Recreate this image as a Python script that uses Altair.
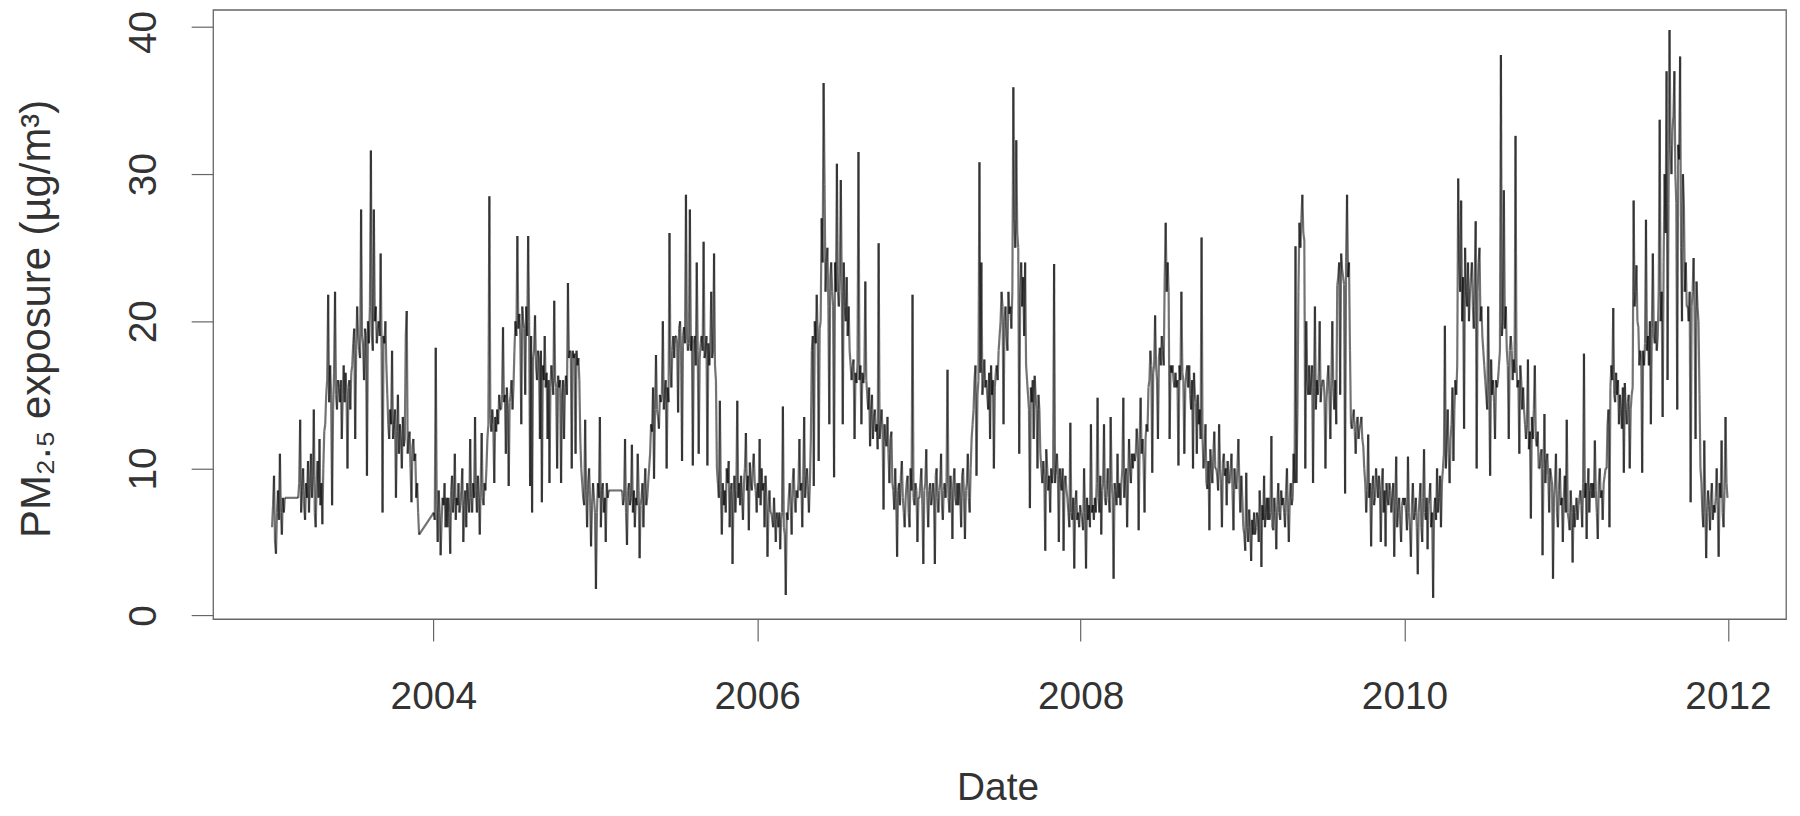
import calendar
import altair as alt
import pandas as pd

# PM2.5 exposure readings
# (each inner list = readings spread across that month; empty = no data)
y2003 = [
    [6, 7.5, 9.5, 5, 4.2, 7, 8.5, 6.5, 11, 7, 5.5, 8, 7, 8],
    [],
    [8, 9, 13.3, 7, 8.5, 10, 7.5, 6.5, 9, 8, 10.5, 7, 9, 11],
    [8, 9.5, 14, 7, 6, 9, 10.5, 8, 12, 7.5, 9, 6.2, 10, 12.5],
    [13, 15, 16, 21.8, 14.5, 17, 15, 7.5, 14, 16.5, 22, 15, 14, 16],
    [15.5, 14.5, 16, 12, 15, 17, 14.5, 16.5, 15, 10, 15.5, 16, 14, 16.5],
    [17, 18.5, 19.5, 12, 18, 21, 19, 18, 17.5, 27.6, 19, 18.5, 16, 19.5],
    [19, 9.5, 20, 18.5, 21, 31.6, 19, 18, 27.6, 20, 21, 18.5, 19.5, 20],
    [19, 24.6, 18, 7, 19, 18.5, 20, 17, 15, 13, 12, 14, 13, 18],
    [12, 13, 14, 8, 12.5, 15, 11, 13, 12, 10, 13.5, 11.5, 12, 19],
    [20.7, 11, 12, 12.5, 10, 7.7, 11.5, 12, 10.5, 11, 8, 9, 7, 5.5],
    [],
]
y2004 = [
    [7, 6.5, 18.2, 7.5, 5, 8.5, 7, 4.1, 6.5, 8, 7.5, 9, 6, 8],
    [6, 8, 7, 4.2, 8.5, 9.5, 7, 8, 11, 6.5, 8, 7.5, 9, 7],
    [7.5, 8.5, 10, 5, 7.5, 8.5, 6, 9, 8, 7, 12, 8, 7, 9],
    [8, 13.5, 8.5, 7, 9.5, 8, 5.5, 9, 12.4, 8, 7.5, 9, 8.5, 10],
    [12, 13, 28.5, 13.5, 12.5, 14, 13, 9, 13.5, 12.5, 14, 13, 15, 14],
    [14, 15, 19.6, 14.5, 15, 11, 15.5, 14, 8.8, 14.5, 15, 16, 14, 15.5],
    [18, 20, 19, 25.8, 19.5, 20.5, 19, 13, 21, 20, 19.5, 15, 21, 19],
    [25.8, 20, 8.8, 19, 7, 17.5, 18, 20.4, 17, 16, 18, 17.5, 12, 18],
    [7.7, 17, 16, 19, 15.5, 16.5, 12, 16, 9, 15.5, 17, 16, 15, 21.4],
    [16, 15.5, 10, 16.3, 15.5, 16, 9, 15, 16, 12, 15.5, 16.3, 15, 22.6],
    [17.5, 18, 17.8, 10, 18, 17.5, 17.8, 11, 18, 17, 17.5, 16, 12, 10],
    [9, 8, 7.5, 13.3, 8.5, 6, 9, 10, 8, 4.7, 7.5, 9, 8, 7],
]
y2005 = [
    [1.8, 7, 9, 8, 13.5, 6, 8.5, 9, 7, 8, 5, 9, 8, 8.5],
    [],
    [8.5, 7.5, 8, 12, 7, 4.8, 8.5, 9, 7.5, 8, 11.6, 7, 8.5, 6],
    [8, 7.5, 11, 8.5, 3.9, 7.5, 8, 9, 6, 8.5, 10, 7.5, 8, 9],
    [10, 11, 13, 12.5, 15.5, 9.3, 14, 17.7, 14, 13.5, 12.7, 15, 14.5, 15],
    [20, 14, 15, 16, 10, 15.5, 14.5, 26, 17, 15.5, 18, 19, 17.5, 19],
    [19, 18.5, 13.8, 19.5, 20, 18, 10.5, 19, 19.6, 18.5, 28.6, 19, 18, 18.5],
    [27.6, 18, 19, 10.2, 18.5, 19, 17, 24, 18, 11, 17.5, 18.5, 19, 18],
    [25.4, 17.5, 18, 19, 10.2, 18.5, 17, 18, 22, 17.5, 18, 24.6, 17, 16],
    [10, 9, 8, 14.6, 8.5, 5.5, 9, 7.5, 8.5, 7, 10, 9, 10.5, 6],
    [8.5, 9, 3.5, 8, 9.5, 7, 8.5, 14.6, 8, 9, 7.5, 9.5, 8, 6.5],
    [9, 10, 12.4, 8.5, 9.5, 5.8, 10.4, 9, 8.5, 10, 11, 9, 8.5, 7],
]
y2006 = [
    [9, 8, 12, 7.5, 10, 8.5, 9, 6, 9.5, 8, 4, 7, 8.5, 7],
    [7, 6.5, 6, 8, 6.5, 5, 7, 6.5, 6, 7, 4.5, 6.5, 7, 14.2],
    [6, 5.5, 1.4, 7, 6.5, 8, 9, 7.5, 5.5, 9, 10, 8, 7, 8.5],
    [8, 9, 12, 8.5, 9, 6, 9.5, 13.5, 8, 9, 10, 8.5, 7, 9],
    [12, 18, 19, 8.8, 20, 18.5, 21.8, 19, 10.5, 19.5, 20, 27, 24, 36.2],
    [29.3, 22, 24, 25, 21, 13, 23, 24, 22, 21, 9.4, 24, 22, 30.7],
    [22, 21, 23, 29.6, 22, 13, 24, 21, 20, 23, 19, 21, 18, 17],
    [16, 17, 17.4, 12, 16.5, 15.8, 17, 31.5, 16, 17, 13, 16.5, 15.8, 16.5],
    [22.7, 16, 15, 14, 15.5, 11.5, 14, 15, 12, 13.5, 14, 12.5, 13, 11.3],
    [25.3, 12, 13, 14, 12.5, 7.2, 13, 12, 11.5, 13.5, 11, 9, 12, 12.5],
    [9, 8.5, 7.2, 10, 8, 4, 8.5, 9, 7.5, 9.5, 10.5, 8, 7, 6],
    [8, 9, 9.5, 7, 6, 10, 8.5, 21.8, 8, 7.5, 9, 8.5, 5, 8],
]
y2007 = [
    [8, 9, 10, 7.5, 3.5, 8.5, 9, 11.3, 8, 6, 8.5, 9, 7.5, 8],
    [9, 8, 3.5, 9.5, 10, 8, 7, 8.5, 9, 11, 7.5, 6.5, 8.5, 9],
    [8, 9, 16.7, 8, 7, 9.5, 8.5, 5.2, 9, 10, 8, 7.5, 9, 7.5],
    [9, 8, 6, 9.5, 10, 8, 5.2, 8.5, 9, 11, 8, 7, 10, 12],
    [13, 14, 16, 17, 9.5, 15, 16, 30.8, 16.5, 24, 15, 16, 17.4, 15.5],
    [16, 15, 14, 16.5, 12, 17, 15, 16, 10, 15.5, 16.5, 17, 16, 18],
    [19, 20, 22, 21, 13, 20, 21, 19, 18, 22, 20.5, 21, 19.5, 22],
    [35.9, 27, 25, 32.3, 26, 25, 11, 22, 24, 21, 23, 19, 24, 17],
    [16, 15, 14, 7.3, 15.5, 14.5, 16, 12, 16.3, 15, 14, 10, 15, 14],
    [11, 10, 9, 10.5, 9.5, 4.4, 11.3, 10, 8.5, 9.5, 7, 10, 9, 10],
    [23.9, 9, 10, 11, 9.5, 5, 10, 9, 8.5, 10, 4.4, 9, 9.5, 8.5],
    [8, 7, 6, 13.1, 7, 6.5, 8, 3.2, 7.5, 8.5, 6.5, 7, 6, 7.5],
]
y2008 = [
    [7, 6.5, 5.8, 10, 7, 3.2, 8, 6.5, 7.5, 6, 13, 7, 7.5, 6.5],
    [8, 7, 9, 14.8, 8, 7, 9.5, 5.5, 8.5, 9, 13, 8, 7.5, 8.5],
    [10, 8, 7, 13.5, 9, 8, 2.5, 9, 8.5, 7.5, 11, 8, 9, 7.5],
    [9, 10, 14.8, 8, 9.5, 10, 6, 9, 12, 10, 9, 11, 10, 11],
    [10.5, 11, 12.7, 11.5, 5.8, 12, 14.8, 11, 12, 10.5, 7, 12, 13, 12.5],
    [15.5, 16, 18, 17, 9.7, 16.5, 17, 20.4, 17, 16, 12, 17.5, 18.2, 17],
    [19, 18, 17, 23, 26.7, 22, 24, 22, 12, 17, 16.5, 17, 16, 15.5],
    [16.5, 15.5, 16, 10.2, 17, 16, 22, 16.5, 16, 11, 15.5, 16.5, 17, 15.5],
    [17, 15, 14, 16, 10, 16.5, 15, 14.5, 11, 15, 13, 14, 12, 25.7],
    [12, 10, 11, 13, 9, 8.6, 10.5, 5.8, 11.3, 10, 9, 11, 12.5, 10],
    [10, 9.5, 8.5, 13, 10, 9, 6, 10.5, 11, 9.5, 10, 7.5, 10.5, 9],
    [9, 10, 11, 8.5, 5.8, 10, 9, 8.6, 10, 12, 9, 7, 9.5, 8],
]
y2009 = [
    [6, 5.5, 4.4, 9.7, 6, 5, 7.2, 6, 3.7, 6.5, 5.5, 7, 5.5, 6],
    [7, 6.5, 5, 8.5, 7, 3.3, 7.5, 6.5, 9.5, 6, 7, 8, 6.5, 8],
    [6.5, 7, 12.2, 6, 5.8, 8, 7, 4.5, 7.5, 9, 7, 6.5, 8.5, 7.5],
    [8, 7, 6, 8.5, 10, 7, 5, 8, 9, 7.5, 8, 11, 9, 25.1],
    [9, 14, 22, 26.7, 25, 27, 28.6, 26, 25.5, 10, 20, 16, 15, 17],
    [15, 16, 17, 9, 15.5, 21, 14, 16, 15, 16.5, 20, 14.5, 15.5, 16],
    [16, 15, 10, 14.5, 16, 17, 15, 12, 16, 20, 15.5, 14, 16, 13],
    [22.4, 23, 24, 15, 24.6, 23.5, 23, 22.5, 8.3, 24, 28.6, 23, 24, 18],
    [13, 12.7, 13.5, 14, 12.5, 11, 13, 13.5, 12, 12.7, 13, 13.5, 12, 11.5],
    [10, 9, 7, 8.5, 12.3, 8, 9, 4.7, 8.5, 9.5, 7.5, 8, 10, 9],
    [8, 9.5, 8.5, 5, 9, 10, 7, 8.5, 4.7, 9, 8, 7.5, 9, 8.5],
    [7, 8, 9, 4, 7.5, 10.8, 6, 7, 8, 6.5, 5, 7.5, 8, 7.5],
]
y2010 = [
    [8, 7, 5.8, 10.8, 7, 6, 4, 7.5, 9, 6.5, 7, 8, 6, 2.8],
    [7, 8, 9, 6, 5, 8, 11.3, 7, 6.5, 8, 4.5, 7.5, 8, 9],
    [6, 7, 1.2, 7, 8, 6.5, 10, 7, 8, 9.5, 6, 9, 10, 11],
    [19.7, 10, 12, 14, 11, 9, 12, 13, 15.5, 10.5, 14, 16, 15, 17],
    [29.7, 24, 22, 28.2, 20, 23, 12.7, 25, 22, 21, 24, 20, 22, 23],
    [24, 21, 19.5, 23, 26.8, 10, 22, 24, 25, 20, 21, 19, 18, 17],
    [16, 15, 14, 21, 16, 9.5, 17.4, 15, 16, 14.5, 12, 16, 15.5, 16],
    [17, 18, 38.1, 19, 20, 28.9, 19.5, 21, 18, 17, 12, 18, 19, 18],
    [16, 17.4, 16.5, 32.6, 17, 15.5, 16, 11, 17, 16, 14, 15.5, 14, 13],
    [12, 13, 17.4, 11.3, 12.5, 6.6, 13.5, 12, 14, 17, 12, 11.5, 12.5, 10],
    [10, 11, 11.3, 4.1, 10, 13.7, 9, 10.5, 11, 9.5, 7, 10, 9.5, 9],
    [2.5, 8, 9, 11, 7, 6, 8.5, 10, 7.5, 8, 5, 8, 9.5, 7],
]
y2011 = [
    [13.3, 7, 6.5, 5.8, 8.5, 7, 3.6, 7.5, 6, 7, 8, 6.5, 7.5, 8],
    [8.5, 7.5, 6, 9, 17.8, 8, 9, 5.2, 8.5, 10, 7, 8.5, 9, 8],
    [9, 8, 11.9, 8.5, 7, 5.2, 9, 10, 8, 8.5, 6.5, 9, 9.5, 10],
    [10, 13, 14, 6, 15.5, 17, 16, 20.9, 15, 14.5, 16.5, 15, 16, 13],
    [15, 14, 12.7, 15.5, 9.7, 15.8, 14, 13, 14.5, 15, 10, 14, 15, 15.5],
    [28.2, 21, 22, 23.8, 20, 19.6, 17, 18, 17.5, 9.7, 18, 17, 18.5, 26.9],
    [18, 19, 17, 20, 13, 19.5, 24.6, 19, 18.5, 20, 18, 19, 22, 33.7],
    [20, 22, 13.5, 24, 30, 26, 37, 16, 28, 39.8, 32, 30, 33, 34],
    [37, 30, 28, 14, 32, 31, 38, 25, 20, 30, 28, 22, 24, 21],
    [21, 20, 22, 7.7, 21, 22, 24.3, 20.5, 12, 22.7, 21, 20, 15, 10],
    [9, 7, 6, 11.9, 8, 3.9, 7, 8.5, 7.5, 5.8, 8, 9, 6.5, 7.5],
    [7, 8, 10, 7.5, 4, 9, 8, 11.9, 7, 6, 8.5, 13.5, 9, 8],
]

years = {2003: y2003, 2004: y2004, 2005: y2005, 2006: y2006, 2007: y2007,
         2008: y2008, 2009: y2009, 2010: y2010, 2011: y2011}

x_ticks = [2004, 2006, 2008, 2010, 2012]
y_ticks = [0, 10, 20, 30, 40]

rows = []
for yr, months in years.items():
    for m, vals in enumerate(months, start=1):
        n = len(vals)
        if n == 0:
            continue
        days = calendar.monthrange(yr, m)[1]
        start = pd.Timestamp(yr, m, 1)
        for i, v in enumerate(vals):
            rows.append((start + pd.Timedelta(days=(i + 0.5) * days / n), v))
pts = pd.DataFrame(rows, columns=["date", "pm"])
seg = pd.DataFrame({
    "date": pts["date"].iloc[:-1].dt.strftime("%Y-%m-%dT%H:%M:%S").values,
    "pm": pts["pm"].iloc[:-1].values,
    "date2": pts["date"].iloc[1:].dt.strftime("%Y-%m-%dT%H:%M:%S").values,
    "pm2": pts["pm"].iloc[1:].values,
})

FONT = "Liberation Sans, Arial, sans-serif"
TXT = "#333333"
AX = "#666666"

x_axis = alt.Axis(
    values=[alt.DateTime(year=y, month=1, date=1) for y in x_ticks],
    format="%Y", domain=False, grid=False,
    tickSize=22, tickColor=AX, tickWidth=1.2,
    labelFont=FONT, labelFontSize=39, labelColor=TXT,
    labelBaseline="alphabetic", labelPadding=68,
    labelFlush=False, labelOverlap=False,
    title="Date", titleFont=FONT, titleFontSize=39, titleFontWeight="normal",
    titleColor=TXT, titleX=788, titleY=181, titleBaseline="alphabetic",
    titleAlign="center",
)
y_axis = alt.Axis(
    values=y_ticks, domain=False, grid=False,
    tickSize=22, tickColor=AX, tickWidth=1.2,
    labelFont=FONT, labelFontSize=39, labelColor=TXT,
    labelAngle=270, labelAlign="center", labelBaseline="alphabetic",
    labelPadding=36, labelFlush=False, labelOverlap=False,
    labelOffset={"condition": {"test": "datum.value === 40", "value": 5}, "value": 0},
    title="PM₂.₅ exposure (µg/m³)", titleFont=FONT, titleFontSize=42,
    titleFontWeight="normal", titleColor=TXT, titleAngle=270,
    titleX=-164, titleY=310, titleBaseline="alphabetic", titleAlign="center",
)

chart = alt.Chart(seg).mark_rule(color="black", strokeWidth=2.2, opacity=0.55).encode(
    x=alt.X("date:T", axis=x_axis,
            scale=alt.Scale(domain=[alt.DateTime(year=2002, month=8, date=22),
                                    alt.DateTime(year=2012, month=5, date=11)])),
    x2="date2:T",
    y=alt.Y("pm:Q", axis=y_axis,
            scale=alt.Scale(domain=[-0.24, 41.17], nice=False, zero=False)),
    y2="pm2:Q",
).properties(
    width=1580, height=612,
    autosize=alt.AutoSizeParams(type="none"),
    padding={"left": 206, "top": 0, "right": 6, "bottom": 188},
    background="white",
).configure_view(stroke=AX, strokeWidth=1.3)

chart.save("out.html", embed_options={"renderer": "svg", "actions": False})
